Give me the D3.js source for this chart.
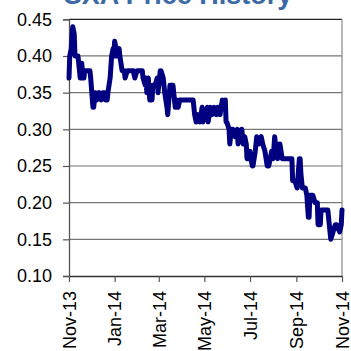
<!DOCTYPE html>
<html><head><meta charset="utf-8">
<script src="https://cdn.jsdelivr.net/npm/d3@7"></script>
<style>html,body{margin:0;padding:0;background:#fff;overflow:hidden}</style>
</head><body>
<script>
const title = "SXA Price History";
const dates = ["2013-11-01","2013-11-02","2013-11-04","2013-11-06","2013-11-08","2013-11-09","2013-11-12","2013-11-13","2013-11-14","2013-11-16","2013-11-17","2013-11-18","2013-11-20","2013-11-21","2013-11-22","2013-11-26","2013-11-29","2013-11-30",
"2013-12-03","2013-12-04","2013-12-06","2013-12-08","2013-12-11","2013-12-14","2013-12-16","2013-12-19","2013-12-20","2013-12-22","2013-12-23","2013-12-26","2013-12-28","2013-12-30","2013-12-31",
"2014-01-01","2014-01-03","2014-01-04","2014-01-07","2014-01-08","2014-01-11","2014-01-14","2014-01-15","2014-01-18","2014-01-22","2014-01-26","2014-01-28","2014-01-31",
"2014-02-04","2014-02-07","2014-02-08","2014-02-11","2014-02-12","2014-02-13","2014-02-15","2014-02-17","2014-02-20","2014-02-21","2014-02-24","2014-02-27","2014-02-28",
"2014-03-03","2014-03-04","2014-03-07","2014-03-09","2014-03-12","2014-03-13","2014-03-16","2014-03-19","2014-03-20","2014-03-23","2014-03-25","2014-03-27","2014-03-29",
"2014-04-05","2014-04-12","2014-04-16","2014-04-18","2014-04-20","2014-04-22","2014-04-25","2014-04-28","2014-04-29",
"2014-05-02","2014-05-05","2014-05-06","2014-05-09","2014-05-11","2014-05-14","2014-05-17","2014-05-19","2014-05-22","2014-05-25","2014-05-26","2014-05-29","2014-05-30","2014-05-31",
"2014-06-03","2014-06-04","2014-06-06","2014-06-08","2014-06-11","2014-06-14","2014-06-15","2014-06-18","2014-06-20","2014-06-22","2014-06-24","2014-06-26","2014-06-27","2014-06-30",
"2014-07-01","2014-07-04","2014-07-05","2014-07-08","2014-07-10","2014-07-13","2014-07-16","2014-07-18","2014-07-21","2014-07-24","2014-07-26","2014-07-28","2014-07-30",
"2014-08-01","2014-08-03","2014-08-05","2014-08-06","2014-08-07","2014-08-10","2014-08-13","2014-08-14","2014-08-17","2014-08-23","2014-08-26","2014-08-27","2014-08-30",
"2014-09-02","2014-09-05","2014-09-06","2014-09-07","2014-09-09","2014-09-13","2014-09-15","2014-09-17","2014-09-18","2014-09-19","2014-09-23","2014-09-26","2014-09-29","2014-09-30",
"2014-10-03","2014-10-04","2014-10-09","2014-10-13","2014-10-16","2014-10-17","2014-10-20","2014-10-23","2014-10-25","2014-10-29","2014-10-31","2014-11-01"];
const prices = [0.37,0.40,0.41,0.44,0.43,0.40,0.40,0.40,0.39,0.37,0.37,0.39,0.37,0.37,0.38,0.38,0.38,0.37,
0.33,0.33,0.35,0.34,0.35,0.34,0.35,0.35,0.34,0.34,0.35,0.37,0.40,0.41,0.40,
0.42,0.41,0.40,0.41,0.40,0.38,0.38,0.37,0.38,0.38,0.38,0.37,0.38,
0.38,0.38,0.37,0.36,0.37,0.35,0.37,0.34,0.34,0.36,0.36,0.37,0.35,
0.38,0.38,0.37,0.35,0.33,0.32,0.36,0.36,0.36,0.33,0.34,0.33,0.34,
0.34,0.34,0.34,0.32,0.31,0.32,0.31,0.33,0.31,
0.32,0.33,0.31,0.33,0.32,0.33,0.32,0.33,0.32,0.34,0.33,0.34,0.31,0.31,
0.30,0.28,0.30,0.30,0.29,0.30,0.28,0.29,0.30,0.28,0.29,0.28,0.26,0.26,
0.27,0.25,0.25,0.27,0.29,0.28,0.29,0.28,0.27,0.25,0.25,0.26,0.27,
0.26,0.29,0.27,0.28,0.26,0.28,0.26,0.26,0.26,0.26,0.26,0.23,0.23,
0.22,0.26,0.26,0.24,0.22,0.22,0.21,0.18,0.18,0.21,0.21,0.20,0.20,0.17,
0.17,0.19,0.19,0.19,0.16,0.15,0.16,0.17,0.17,0.16,0.17,0.19];
const yTicks = [0.10,0.15,0.20,0.25,0.30,0.35,0.40,0.45];
const xTickLabels = ["Nov-13","Jan-14","Mar-14","May-14","Jul-14","Sep-14","Nov-14"];
const xTickDates = ["2013-11-01","2014-01-01","2014-03-01","2014-05-01","2014-07-01","2014-09-01","2014-11-01"];

const W = 351, H = 351;
const m = {left: 69, right: 9, top: 19.3, bottom: 75};
const parse = d3.timeParse("%Y-%m-%d");
const data = dates.map((d, i) => ({date: parse(d), v: prices[i]}));

const svg = d3.select("body").append("svg").attr("width", W).attr("height", H)
  .style("font-family", "Arial, 'Liberation Sans', sans-serif");

const x = d3.scaleTime().domain([parse("2013-11-01"), parse("2014-11-01")]).range([m.left, W - m.right]);
const y = d3.scaleLinear().domain([0.10, 0.45]).range([H - m.bottom, m.top]);

// gridlines
svg.append("g").selectAll("line").data(yTicks.slice(1)).join("line")
  .attr("x1", m.left).attr("x2", W - m.right)
  .attr("y1", d => y(d)).attr("y2", d => y(d))
  .attr("stroke", d => d === 0.45 ? "#222" : "#777").attr("stroke-width", 1.2);
// right border
svg.append("line").attr("x1", W - m.right).attr("x2", W - m.right)
  .attr("y1", m.top).attr("y2", H - m.bottom).attr("stroke", "#888").attr("stroke-width", 1.2);

// y axis
const yAxis = svg.append("g").attr("transform", `translate(${m.left},0)`)
  .call(d3.axisLeft(y).tickValues(yTicks).tickFormat(d3.format(".2f")).tickSize(6).tickPadding(11));
yAxis.select(".domain").attr("stroke", "#555").attr("stroke-width", 1.3);
yAxis.selectAll(".tick line").attr("stroke", "#555").attr("stroke-width", 1.2);
yAxis.selectAll("text").attr("font-size", 18).attr("fill", "#000").attr("font-family", "Arial, 'Liberation Sans', sans-serif");

// x axis
const xAxis = svg.append("g").attr("transform", `translate(0,${H - m.bottom})`)
  .call(d3.axisBottom(x).tickValues(xTickDates.map(parse))
    .tickFormat((d, i) => xTickLabels[i]).tickSize(6).tickSizeOuter(0));
xAxis.select(".domain").attr("stroke", "#333").attr("stroke-width", 1.3);
xAxis.selectAll(".tick line").attr("stroke", "#555").attr("stroke-width", 1.2);
xAxis.selectAll("text").attr("font-size", 18).attr("fill", "#000")
  .attr("font-family", "Arial, 'Liberation Sans', sans-serif")
  .attr("text-anchor", "end").attr("transform", "rotate(-90)")
  .attr("x", -15).attr("y", 0).attr("dy", "0.35em");

// line
svg.append("path").datum(data)
  .attr("fill", "none").attr("stroke", "#000080").attr("stroke-width", 5)
  .attr("stroke-linejoin", "round").attr("stroke-linecap", "round")
  .attr("d", d3.line().x(d => x(d.date)).y(d => y(d.v)));

// title
svg.append("text").attr("x", 178).attr("y", 4).attr("text-anchor", "middle")
  .attr("font-size", 27).attr("font-weight", "bold").attr("fill", "#3d6aa5")
  .attr("font-family", "Arial, 'Liberation Sans', sans-serif").text(title);
</script>
</body></html>
